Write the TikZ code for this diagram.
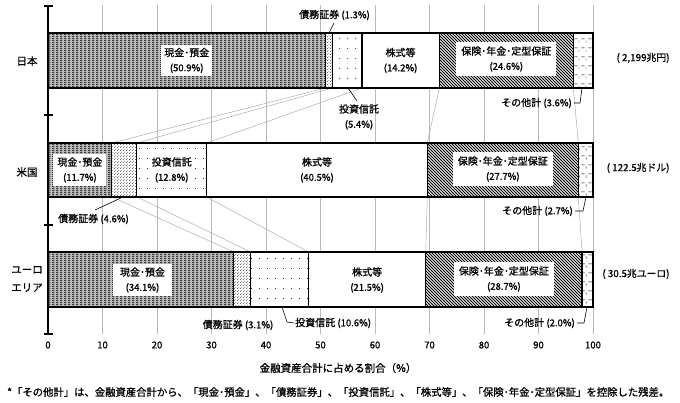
\documentclass[tikz,border=0pt]{standalone}
\usepackage{fontspec}
\setmainfont{Noto Sans CJK JP}[RawFeature={embolden=0.9}]
\usetikzlibrary{patterns}
\pgfdeclarepatternformonly{cashpat}{\pgfqpoint{0pt}{0pt}}{\pgfqpoint{4pt}{2pt}}{\pgfqpoint{4pt}{2pt}}{%
 \pgfpathrectangle{\pgfqpoint{0pt}{0pt}}{\pgfqpoint{1pt}{1pt}}%
 \pgfpathrectangle{\pgfqpoint{1pt}{1pt}}{\pgfqpoint{1pt}{1pt}}%
 \pgfpathrectangle{\pgfqpoint{2pt}{0pt}}{\pgfqpoint{1pt}{1pt}}%
 \pgfusepath{fill}}
\pgfdeclarepatternformonly{densedots}{\pgfqpoint{0pt}{0pt}}{\pgfqpoint{3pt}{3pt}}{\pgfqpoint{3pt}{3pt}}{%
 \pgfpathcircle{\pgfqpoint{0.75pt}{0.75pt}}{0.45pt}%
 \pgfpathcircle{\pgfqpoint{2.25pt}{2.25pt}}{0.45pt}%
 \pgfusepath{fill}}
\pgfdeclarepatternformonly{sparsedots}{\pgfqpoint{0pt}{0pt}}{\pgfqpoint{8pt}{10pt}}{\pgfqpoint{8pt}{10pt}}{%
 \pgfpathcircle{\pgfqpoint{4pt}{5pt}}{0.55pt}\pgfusepath{fill}}
\pgfdeclarepatternformonly{hatchpat}{\pgfqpoint{-1pt}{-1pt}}{\pgfqpoint{4pt}{4pt}}{\pgfqpoint{3pt}{3pt}}{%
 \pgfsetlinewidth{0.75pt}%
 \pgfpathmoveto{\pgfqpoint{0pt}{3pt}}\pgfpathlineto{\pgfqpoint{3.1pt}{-0.1pt}}\pgfusepath{stroke}}
\pgfdeclarepatternformonly{dashgrid}{\pgfqpoint{0pt}{0pt}}{\pgfqpoint{7pt}{9pt}}{\pgfqpoint{7pt}{9pt}}{%
 \pgfsetlinewidth{0.5pt}%
 \pgfpathmoveto{\pgfqpoint{0.5pt}{4.5pt}}\pgfpathlineto{\pgfqpoint{4pt}{4.5pt}}%
 \pgfpathmoveto{\pgfqpoint{5.5pt}{0.5pt}}\pgfpathlineto{\pgfqpoint{5.5pt}{3pt}}%
 \pgfusepath{stroke}}
\newcommand\fj{\fontsize{10}{15}\selectfont}
\newcommand\fn{\fontsize{9.5}{15}\selectfont}
\newcommand\segbox[5]{\draw[#1] ({48+5.45*#2},#4) rectangle ({48+5.45*#3},#5);}
\begin{document}
\begin{tikzpicture}[x=1pt,y=-1pt,
  seg/.style={draw=black,line width=1.3pt},
  cashseg/.style={seg,preaction={fill=gray!50},preaction={pattern=cashpat}},
  debtseg/.style={seg,preaction={fill=white},preaction={pattern=densedots}},
  fundseg/.style={seg,preaction={fill=white},preaction={pattern=sparsedots}},
  stockseg/.style={seg,fill=white},
  insseg/.style={seg,preaction={fill=white},preaction={pattern=hatchpat}},
  otherseg/.style={seg,preaction={fill=white},preaction={pattern=dashgrid}},
  grid line/.style={draw=gray!55,line width=0.5pt},
  conn/.style={draw=gray!70,line width=0.45pt},
  leader/.style={draw=black,line width=0.6pt},
  inlbl/.style={align=center,font=\fj,inner xsep=5pt,inner ysep=3pt},
  whitelbl/.style={inlbl,fill=white},
  outlbl/.style={font=\fj,inner sep=1pt},
  catlbl/.style={font=\fontsize{10.5}{18}\selectfont,align=center},
  ticklbl/.style={font=\fn},
  totlbl/.style={font=\fontsize{9.8}{12}\selectfont,anchor=east}]
\useasboundingbox (0,0) rectangle (680,403);
% grid
\foreach \k in {1,...,10}{\draw[grid line] ({48+5.45*10*\k},5) -- ({48+5.45*10*\k},334);}
% axis
\draw[line width=2.5pt] (48,5) -- (48,334);
\foreach \yy in {6,115,225,334}{\draw[line width=1.5pt] (44,\yy) -- (53,\yy);}
% boundary coordinates
\foreach \n/\v in {1/50.9,2/52.2,3/57.6,4/71.8,5/96.4}{\coordinate (jb\n) at ({48+5.45*\v},88);}
\foreach \n/\v in {1/11.7,2/16.3,3/29.1,4/69.6,5/97.3}{\coordinate (ut\n) at ({48+5.45*\v},143);\coordinate (ub\n) at ({48+5.45*\v},197);}
\foreach \n/\v in {1/34.1,2/37.2,3/47.8,4/69.3,5/98.0}{\coordinate (et\n) at ({48+5.45*\v},252);}
% connectors
\foreach \n in {1,...,5}{\draw[conn] (jb\n) -- (ut\n); \draw[conn] (ub\n) -- (et\n);}
% Japan bar
\segbox{cashseg}{0}{50.9}{33}{88}
\segbox{debtseg}{50.9}{52.2}{33}{88}
\segbox{fundseg}{52.2}{57.6}{33}{88}
\segbox{stockseg}{57.6}{71.8}{33}{88}
\segbox{insseg}{71.8}{96.4}{33}{88}
\segbox{otherseg}{96.4}{100}{33}{88}
% US bar
\segbox{cashseg}{0}{11.7}{143}{197}
\segbox{debtseg}{11.7}{16.3}{143}{197}
\segbox{fundseg}{16.3}{29.1}{143}{197}
\segbox{stockseg}{29.1}{69.6}{143}{197}
\segbox{insseg}{69.6}{97.3}{143}{197}
\segbox{otherseg}{97.3}{100}{143}{197}
% Euro bar
\segbox{cashseg}{0}{34.1}{252}{307}
\segbox{debtseg}{34.1}{37.2}{252}{307}
\segbox{fundseg}{37.2}{47.8}{252}{307}
\segbox{stockseg}{47.8}{69.3}{252}{307}
\segbox{insseg}{69.3}{98.0}{252}{307}
\segbox{otherseg}{98.0}{100}{252}{307}
% in-bar labels Japan
\node[whitelbl,inner xsep=3pt] (jcash) at (186.7,60.5) {現金･預金\\{\fn (50.9\%)}};
\node[inlbl] (jstock) at (400.6,60.5) {株式等\\{\fn (14.2\%)}};
\node[whitelbl,inner ysep=4pt] (jins) at (506.3,59) {保険･年金･定型保証\\{\fn (24.6\%)}};
% US
\node[whitelbl,inner xsep=4pt] (ucash) at (79.9,170) {現金･預金\\{\fn (11.7\%)}};
\node[whitelbl,inner xsep=3pt,inner ysep=1pt] (ufund) at (171.7,170) {投資信託\\{\fn (12.8\%)}};
\node[inlbl] (ustock) at (317,170) {株式等\\{\fn (40.5\%)}};
\node[whitelbl,inner ysep=4pt] (uins) at (502.8,169) {保険･年金･定型保証\\{\fn (27.7\%)}};
% Euro
\node[whitelbl,inner xsep=7pt] (ecash) at (142.5,280) {現金･預金\\{\fn (34.1\%)}};
\node[inlbl] (estock) at (367.1,280) {株式等\\{\fn (21.5\%)}};
\node[whitelbl,inner ysep=4pt] (eins) at (503.9,279) {保険･年金･定型保証\\{\fn (28.7\%)}};
% outside labels Japan
\coordinate (jdebtTop) at (329,33);
\node[outlbl] (jdebt) at (334.5,15) {債務証券 {\fn (1.3\%)}};
\draw[leader] (jdebtTop) -- (334,23);
\coordinate (jfundBot) at (348,88);
\node[inlbl,inner sep=1pt] (jfund) at (359,117) {投資信託\\{\fn (5.4\%)}};
\draw[leader] (jfundBot) -- (357,101);
\coordinate (jothBot) at (582,88);
\node[outlbl,anchor=east] (joth) at (573,103) {その他計 {\fn (3.6\%)}};
\draw[leader] (joth.east) ++(1,0) -- (580,103) -- (jothBot);
% US outside
\coordinate (udebtBot) at (123,197);
\node[outlbl,anchor=west] (udebt) at (57,219) {債務証券 {\fn (4.6\%)}};
\draw[leader] (udebtBot) -- (95,210);
\coordinate (uothBot) at (586,197);
\node[outlbl,anchor=east] (uoth) at (574,211) {その他計 {\fn (2.7\%)}};
\draw[leader] (uoth.east) ++(1,0) -- (583,211) -- (uothBot);
% Euro outside
\node[outlbl] (edebt) at (238,325) {債務証券 {\fn (3.1\%)}};
\coordinate (efundBot) at (282,307);
\node[outlbl,anchor=west] (efund) at (294,323) {投資信託 {\fn (10.6\%)}};
\draw[leader] (efundBot) -- (287,322) -- (efund.west);
\coordinate (eothBot) at (587,307);
\node[outlbl,anchor=east] (eoth) at (576,323) {その他計 {\fn (2.0\%)}};
\draw[leader] (eoth.east) ++(1,0) -- (584,323) -- (eothBot);
% totals
\node[totlbl] (jtot) at (673,58) {( 2,199兆円)};
\node[totlbl] (utot) at (673,168) {( 122.5兆ドル)};
\node[totlbl] (etot) at (673,274) {( 30.5兆ユーロ)};
% category labels
\node[catlbl] (cj) at (27,61) {日本};
\node[catlbl] (cu) at (27,172) {米国};
\node[catlbl] (ce) at (27,279) {ユーロ\\エリア};
% tick labels
\foreach \k in {0,10,...,100}{\node[ticklbl] (t\k) at ({48+5.45*\k},345) {\k};}
\node[font=\fontsize{10.5}{12}\selectfont] (xtitle) at (338,368) {金融資産合計に占める割合（\%）};
\node[font=\fontsize{10.35}{12}\selectfont,anchor=west,inner sep=0pt] (foot) at (7,392) {*「その他計」は、金融資産合計から、「現金･預金」、「債務証券」、「投資信託」、「株式等」、「保険･年金･定型保証」を控除した残差。};
\end{tikzpicture}
\end{document}
